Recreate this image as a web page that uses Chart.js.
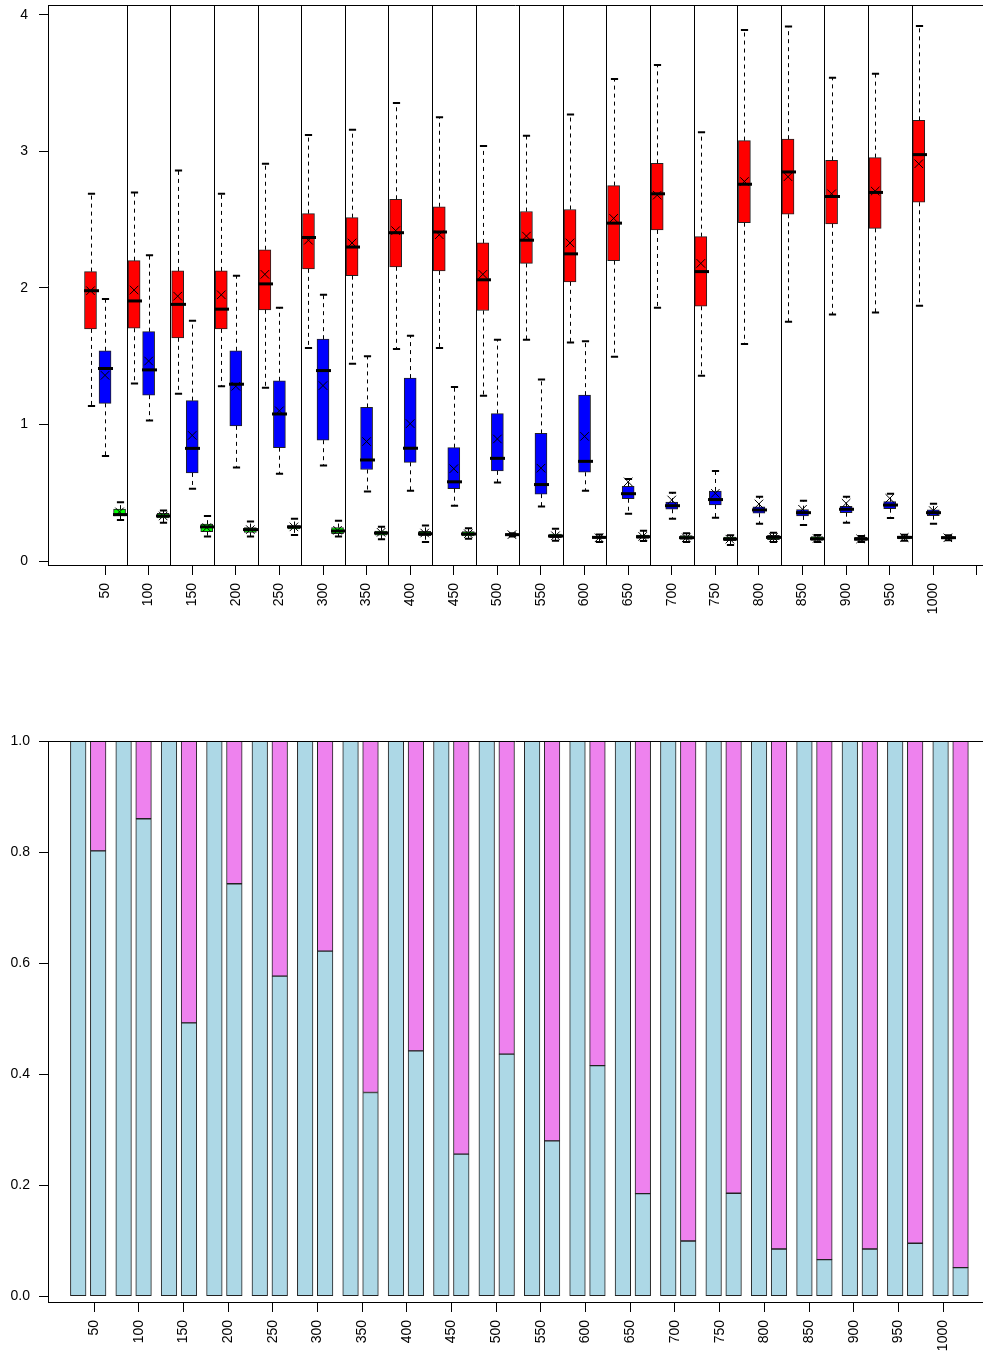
<!DOCTYPE html>
<html>
<head>
<meta charset="utf-8">
<script src="https://cdn.jsdelivr.net/npm/chart.js@4.4.0/dist/chart.umd.min.js"></script>
<style>
  html, body { margin: 0; padding: 0; background: #fff; overflow: hidden; }
  #wrap { position: relative; width: 983px; height: 1357px; }
  #boxChart { position: absolute; left: 0; top: 0; }
  #shareChart { position: absolute; left: 0; top: 700px; }
</style>
</head>
<body>
<div id="wrap">
  <canvas id="boxChart" width="983" height="640"></canvas>
  <canvas id="shareChart" width="983" height="657"></canvas>
</div>
<script>
const groups = ["50", "100", "150", "200", "250", "300", "350", "400", "450", "500",
                "550", "600", "650", "700", "750", "800", "850", "900", "950", "1000"];

// red boxes
const redLow  = [1.135, 1.30, 1.225, 1.28, 1.27, 1.56, 1.445, 1.553, 1.56, 1.21, 1.62, 1.60, 1.497, 1.856, 1.357, 1.59, 1.753, 1.805, 1.82, 1.87];
const redQ1   = [1.70, 1.705, 1.635, 1.70, 1.84, 2.14, 2.09, 2.155, 2.125, 1.835, 2.18, 2.045, 2.20, 2.425, 1.866, 2.478, 2.54, 2.47, 2.437, 2.628];
const redMed  = [1.98, 1.905, 1.88, 1.845, 2.03, 2.37, 2.30, 2.405, 2.41, 2.06, 2.35, 2.25, 2.475, 2.69, 2.12, 2.76, 2.85, 2.67, 2.70, 2.977];
const redQ3   = [2.12, 2.20, 2.125, 2.125, 2.28, 2.545, 2.515, 2.65, 2.595, 2.33, 2.56, 2.575, 2.75, 2.913, 2.376, 3.08, 3.09, 2.935, 2.955, 3.228];
const redHigh = [2.69, 2.70, 2.86, 2.69, 2.91, 3.12, 3.16, 3.355, 3.25, 3.04, 3.115, 3.27, 3.53, 3.634, 3.14, 3.89, 3.915, 3.54, 3.57, 3.92];
const redMean = [1.98, 1.985, 1.94, 1.95, 2.10, 2.35, 2.33, 2.42, 2.39, 2.10, 2.38, 2.33, 2.51, 2.68, 2.18, 2.78, 2.815, 2.69, 2.71, 2.91];

// blue boxes
const blueLow  = [0.77, 1.03, 0.53, 0.685, 0.64, 0.70, 0.51, 0.515, 0.405, 0.575, 0.40, 0.515, 0.347, 0.31, 0.317, 0.273, 0.264, 0.28, 0.315, 0.273];
const blueQ1   = [1.155, 1.215, 0.645, 0.99, 0.83, 0.885, 0.67, 0.723, 0.53, 0.66, 0.49, 0.65, 0.456, 0.379, 0.41, 0.35, 0.33, 0.354, 0.383, 0.332];
const blueMed  = [1.41, 1.40, 0.825, 1.295, 1.077, 1.395, 0.74, 0.826, 0.58, 0.752, 0.56, 0.73, 0.493, 0.405, 0.45, 0.374, 0.354, 0.379, 0.41, 0.354];
const blueQ3   = [1.54, 1.68, 1.175, 1.54, 1.32, 1.625, 1.125, 1.34, 0.83, 1.08, 0.935, 1.215, 0.547, 0.432, 0.513, 0.396, 0.376, 0.40, 0.435, 0.374];
const blueHigh = [1.92, 2.24, 1.76, 2.09, 1.855, 1.95, 1.50, 1.65, 1.275, 1.62, 1.33, 1.61, 0.60, 0.50, 0.66, 0.47, 0.442, 0.47, 0.493, 0.42];
const blueMean = [1.36, 1.465, 0.92, 1.28, 1.10, 1.285, 0.875, 1.006, 0.676, 0.894, 0.68, 0.913, 0.58, 0.447, 0.496, 0.418, 0.379, 0.423, 0.459, 0.369];

// green boxes
const greenLow  = [0.30, 0.28, 0.18, 0.18, 0.19, 0.18, 0.16, 0.14, 0.163, 0.18, 0.149, 0.139, 0.147, 0.139, 0.117, 0.139, 0.139, 0.139, 0.149, 0.152];
const greenQ1   = [0.33, 0.315, 0.215, 0.21, 0.235, 0.20, 0.19, 0.185, 0.183, 0.185, 0.171, 0.166, 0.166, 0.159, 0.149, 0.156, 0.151, 0.151, 0.161, 0.161];
const greenMed  = [0.34, 0.33, 0.25, 0.23, 0.25, 0.22, 0.205, 0.20, 0.198, 0.193, 0.183, 0.173, 0.178, 0.171, 0.161, 0.173, 0.163, 0.161, 0.173, 0.171];
const greenQ3   = [0.38, 0.35, 0.27, 0.245, 0.26, 0.245, 0.22, 0.217, 0.215, 0.20, 0.198, 0.178, 0.19, 0.186, 0.176, 0.188, 0.178, 0.173, 0.183, 0.178];
const greenHigh = [0.43, 0.37, 0.33, 0.29, 0.31, 0.295, 0.25, 0.26, 0.24, 0.203, 0.237, 0.195, 0.222, 0.203, 0.188, 0.207, 0.19, 0.183, 0.193, 0.188];
const greenMean = [0.36, 0.33, 0.245, 0.23, 0.25, 0.225, 0.21, 0.205, 0.20, 0.193, 0.185, 0.17, 0.18, 0.17, 0.16, 0.172, 0.165, 0.162, 0.172, 0.17];

// lower panel: share of the light blue part in each bar pair
const shareFull  = [1, 1, 1, 1, 1, 1, 1, 1, 1, 1, 1, 1, 1, 1, 1, 1, 1, 1, 1, 1];
const shareSplit = [0.802, 0.860, 0.4925, 0.743, 0.5766, 0.6216, 0.367, 0.442, 0.256, 0.436,
                    0.280, 0.4155, 0.185, 0.0996, 0.1856, 0.0852, 0.066, 0.0852, 0.0955, 0.0515];

const boxTicks = [0, 1, 2, 3, 4];
const shareTicks = [0, 0.2, 0.4, 0.6, 0.8, 1.0];

const boxSeries = [
    {name: "red", color: "#ff0000", slot: 1, low: redLow, q1: redQ1, med: redMed, q3: redQ3, high: redHigh, mean: redMean},
    {name: "blue", color: "#0000ff", slot: 2, low: blueLow, q1: blueQ1, med: blueMed, q3: blueQ3, high: blueHigh, mean: blueMean},
    {name: "green", color: "#00ff00", slot: 3, low: greenLow, q1: greenQ1, med: greenMed, q3: greenQ3, high: greenHigh, mean: greenMean}
];

// box positions run 1..60, three per group; labels sit under the middle box
const boxPos = (i, slot) => 3 * i + slot;
const boxTickPos = groups.map((g, i) => boxPos(i, 2)).concat([62]);
const separators = groups.slice(1).map((g, i) => boxPos(i, 3) + 0.5);

// bar pairs in the lower panel (same tick positions, slightly wider group step)
const barStep = 3.047;
const barPos = (i, k) => (k === 0 ? 0.94 : 2.28) + barStep * i;
const shareTickPos = groups.map((g, i) => 2 + 3 * i);

Chart.defaults.font.family = "'Liberation Sans', Arial, sans-serif";
Chart.defaults.font.size = 14;
Chart.defaults.color = "#000";

const fixAxis = (size, vertical) => (scale) => {
    if (vertical) {
        scale.width = size;
        scale.paddingTop = 0;
        scale.paddingBottom = 0;
    } else {
        scale.height = size;
        scale.paddingLeft = 0;
        scale.paddingRight = 0;
    }
};

// frame line along the top of the plot region
const topFrame = {
    id: "topFrame",
    afterDraw(chart) {
        const {ctx, chartArea} = chart;
        ctx.save();
        ctx.strokeStyle = "#000";
        ctx.lineWidth = 1;
        ctx.beginPath();
        ctx.moveTo(chartArea.left, Math.round(chartArea.top) + 0.5);
        ctx.lineTo(chartArea.right, Math.round(chartArea.top) + 0.5);
        ctx.stroke();
        ctx.restore();
    }
};

const boxDecor = {
    id: "boxDecor",
    beforeDatasetsDraw(chart) {
        const {ctx, chartArea, scales: {x}} = chart;
        ctx.save();
        ctx.strokeStyle = "#000";
        ctx.lineWidth = 1;
        separators.forEach(v => {
            const px = Math.round(x.getPixelForValue(v)) + 0.5;
            ctx.beginPath();
            ctx.moveTo(px, chartArea.top);
            ctx.lineTo(px, chartArea.bottom);
            ctx.stroke();
        });
        ctx.restore();
    },
    beforeDatasetDraw(chart, args) {
        if (args.meta.type !== "scatter") return;      //draw after the boxes, under the mean crosses
        const {ctx, scales: {x, y}} = chart;
        ctx.save();
        ctx.strokeStyle = "#000";
        boxSeries.forEach((s, si) => {
            const meta = chart.getDatasetMeta(si + 1);
            meta.data.forEach((bar, i) => {
                const cx = Math.round(x.getPixelForValue(boxPos(i, s.slot))) + 0.5;
                const half = bar.width / 2;
                const yLow = y.getPixelForValue(s.low[i]);
                const yQ1 = y.getPixelForValue(s.q1[i]);
                const yQ3 = y.getPixelForValue(s.q3[i]);
                const yHigh = y.getPixelForValue(s.high[i]);
                const yMed = y.getPixelForValue(s.med[i]);

                // dashed whiskers
                ctx.lineWidth = 1;
                ctx.setLineDash([4, 4]);
                ctx.beginPath();
                ctx.moveTo(cx, yQ3);
                ctx.lineTo(cx, yHigh);
                ctx.moveTo(cx, yQ1);
                ctx.lineTo(cx, yLow);
                ctx.stroke();

                // staples
                ctx.setLineDash([]);
                ctx.lineWidth = 2;
                ctx.beginPath();
                ctx.moveTo(cx - half * 0.6, yHigh);
                ctx.lineTo(cx + half * 0.6, yHigh);
                ctx.moveTo(cx - half * 0.6, yLow);
                ctx.lineTo(cx + half * 0.6, yLow);
                ctx.stroke();

                // median
                ctx.lineWidth = 3;
                ctx.beginPath();
                ctx.moveTo(cx - half - 1.5, yMed);
                ctx.lineTo(cx + half + 1.5, yMed);
                ctx.stroke();
            });
        });
        ctx.restore();
    }
};

const boxDatasets = boxSeries.map(s => ({
    type: "bar",
    label: s.name,
    data: s.q1.map((v, i) => ({x: boxPos(i, s.slot), y: [v, s.q3[i]]})),
    backgroundColor: s.color,
    borderColor: "#222",
    borderWidth: 1,
    borderSkipped: false,
    barThickness: 12,
    grouped: false,
    order: 1
}));

const meanDataset = {
    type: "scatter",
    label: "mean",
    data: boxSeries.flatMap(s => s.mean.map((v, i) => ({x: boxPos(i, s.slot), y: v}))),
    pointStyle: "crossRot",
    pointRadius: 6,
    borderColor: "#000",
    borderWidth: 1,
    order: 0
};

new Chart(document.getElementById("boxChart"), {
    type: "bar",
    data: {datasets: [meanDataset].concat(boxDatasets)},
    options: {
        responsive: false,
        animation: false,
        layout: {autoPadding: false, padding: {top: 5, left: 0, right: 0, bottom: 0}},
        plugins: {legend: {display: false}, tooltip: {enabled: false}},
        scales: {
            x: {
                type: "linear",
                offset: false,
                min: -1.925,
                max: 62.42,
                afterBuildTicks: (scale) => { scale.ticks = boxTickPos.map(v => ({value: v})); },
                afterFit: fixAxis(75, false),
                ticks: {
                    autoSkip: false,
                    minRotation: 90,
                    maxRotation: 90,
                    padding: 8,
                    callback: (value, index) => groups[index] || ""
                },
                grid: {offset: false, drawOnChartArea: false, tickLength: 10, color: "#000"},
                border: {display: true, color: "#000"}
            },
            y: {
                type: "linear",
                min: -0.0293,
                max: 4.073,
                afterBuildTicks: (scale) => { scale.ticks = boxTicks.map(v => ({value: v})); },
                afterFit: fixAxis(48, true),
                ticks: {padding: 11, callback: (value) => String(value)},
                grid: {drawOnChartArea: false, tickLength: 9, color: "#000"},
                border: {display: true, color: "#000"}
            }
        }
    },
    plugins: [boxDecor, topFrame]
});

// lower panel: stacked proportion bars
const shareBars = (shares, k) => shares.map((v, i) => ({x: barPos(i, k), y: v}));
const restBars = (shares, k) => shares.map((v, i) => ({x: barPos(i, k), y: 1 - v > 0.0005 ? 1 - v : null}));

const barStyle = {borderColor: "#222", borderWidth: 1, borderSkipped: false, barThickness: 15.6};

new Chart(document.getElementById("shareChart"), {
    type: "bar",
    data: {
        datasets: [
            {label: "lightblue", data: shareBars(shareFull, 0).concat(shareBars(shareSplit, 1)), backgroundColor: "#add8e6", ...barStyle},
            {label: "violet", data: restBars(shareFull, 0).concat(restBars(shareSplit, 1)), backgroundColor: "#ee82ee", ...barStyle}
        ]
    },
    options: {
        responsive: false,
        animation: false,
        layout: {autoPadding: false, padding: {top: 41, left: 0, right: 0, bottom: 0}},
        plugins: {legend: {display: false}, tooltip: {enabled: false}},
        scales: {
            x: {
                type: "linear",
                stacked: true,
                offset: false,
                min: -1.089,
                max: 61.68,
                afterBuildTicks: (scale) => { scale.ticks = shareTickPos.map(v => ({value: v})); },
                afterFit: fixAxis(55, false),
                ticks: {
                    autoSkip: false,
                    minRotation: 90,
                    maxRotation: 90,
                    padding: 8,
                    callback: (value, index) => groups[index] || ""
                },
                grid: {offset: false, drawOnChartArea: false, tickLength: 10, color: "#000"},
                border: {display: true, color: "#000"}
            },
            y: {
                type: "linear",
                stacked: true,
                min: -0.0103,
                max: 1.0,
                afterBuildTicks: (scale) => { scale.ticks = shareTicks.map(v => ({value: v})); },
                afterFit: fixAxis(48, true),
                ticks: {padding: 9, callback: (value) => value.toFixed(1)},
                grid: {drawOnChartArea: false, tickLength: 9, color: "#000"},
                border: {display: true, color: "#000"}
            }
        }
    },
    plugins: [topFrame]
});
</script>
</body>
</html>
